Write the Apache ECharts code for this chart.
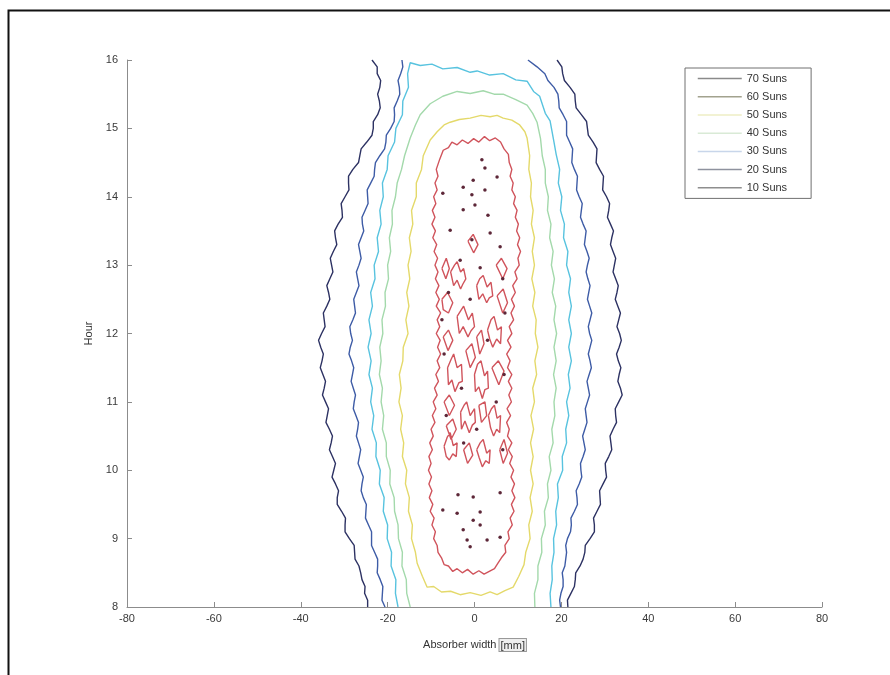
<!DOCTYPE html>
<html><head><meta charset="utf-8">
<script src="https://cdn.jsdelivr.net/npm/echarts@6.0.0/dist/echarts.min.js"></script>
<style>html,body{margin:0;padding:0;background:#fff}#chart{width:890px;height:675px}</style>
</head><body><div id="chart"></div>
<script>
// ---- data (x = absorber width [mm], y = hour) ----
const legendNames = ['70 Suns','60 Suns','50 Suns','40 Suns','30 Suns','20 Suns','10 Suns'];
const lineColors = {'10 Suns':'#2d3263','20 Suns':'#3e5ca6','30 Suns':'#58c3df','40 Suns':'#a3d9ab','50 Suns':'#e4d96a','60 Suns':'#d0545c','70 Suns':'#5d2738'};
const legendColors = {'70 Suns':'#8a8a8a','60 Suns':'#a2a28e','50 Suns':'#eeeec4','40 Suns':'#d9ead6','30 Suns':'#c8d6ea','20 Suns':'#8e929e','10 Suns':'#8e8e8e'};

const suns10Left = [[-23.6,16.0],[-22.4,15.9],[-22.4,15.8],[-21.6,15.7],[-21.8,15.6],[-22.3,15.5],[-21.9,15.4],[-21.7,15.3],[-22.3,15.2],[-23.3,15.1],[-23.3,15.0],[-23.6,14.9],[-24.8,14.8],[-26.1,14.7],[-26.4,14.6],[-26.7,14.5],[-28.0,14.4],[-29.0,14.3],[-29.0,14.2],[-28.9,14.1],[-29.8,14.0],[-30.7,13.9],[-30.5,13.8],[-30.4,13.7],[-31.4,13.6],[-32.2,13.5],[-32.0,13.4],[-31.7,13.3],[-32.5,13.2],[-33.2,13.1],[-32.9,13.0],[-32.6,12.9],[-33.3,12.8],[-34.0,12.7],[-33.6,12.6],[-33.3,12.5],[-34.0,12.4],[-34.8,12.3],[-34.6,12.2],[-34.4,12.1],[-35.2,12.0],[-35.9,11.9],[-35.4,11.8],[-34.8,11.7],[-35.1,11.6],[-35.5,11.5],[-34.9,11.4],[-34.3,11.3],[-34.6,11.2],[-35.0,11.1],[-34.3,11.0],[-33.6,10.9],[-33.9,10.8],[-34.2,10.7],[-33.4,10.6],[-32.7,10.5],[-33.0,10.4],[-33.4,10.3],[-32.7,10.2],[-32.0,10.1],[-32.4,10.0],[-32.8,9.9],[-32.0,9.8],[-31.3,9.7],[-31.6,9.6],[-31.6,9.5],[-30.6,9.4],[-29.7,9.3],[-29.8,9.2],[-29.8,9.1],[-28.8,9.0],[-27.7,8.9],[-27.6,8.8],[-27.5,8.7],[-26.6,8.6],[-26.2,8.5],[-25.9,8.4],[-25.2,8.3],[-25.3,8.2],[-24.6,8.1],[-24.6,8.0]];
const suns10Right = [[19.0,16.0],[20.1,15.9],[20.3,15.8],[20.7,15.7],[22.0,15.6],[23.1,15.5],[23.2,15.4],[23.4,15.3],[24.6,15.2],[25.8,15.1],[26.0,15.0],[26.2,14.9],[27.3,14.8],[28.2,14.7],[28.1,14.6],[28.0,14.5],[28.8,14.4],[29.7,14.3],[29.6,14.2],[29.5,14.1],[30.4,14.0],[31.1,13.9],[30.9,13.8],[30.6,13.7],[31.3,13.6],[32.0,13.5],[31.6,13.4],[31.3,13.3],[31.9,13.2],[32.5,13.1],[32.2,13.0],[31.9,12.9],[32.5,12.8],[33.1,12.7],[32.8,12.6],[32.4,12.5],[33.0,12.4],[33.6,12.3],[33.2,12.2],[32.8,12.1],[33.4,12.0],[33.8,11.9],[33.3,11.8],[32.7,11.7],[33.1,11.6],[33.7,11.5],[33.3,11.4],[33.0,11.3],[33.6,11.2],[34.0,11.1],[33.2,11.0],[32.4,10.9],[32.5,10.8],[32.7,10.7],[31.9,10.6],[31.2,10.5],[31.4,10.4],[31.6,10.3],[30.9,10.2],[30.1,10.1],[30.2,10.0],[30.4,9.9],[29.6,9.8],[28.8,9.7],[28.9,9.6],[29.0,9.5],[28.2,9.4],[27.4,9.3],[27.6,9.2],[27.6,9.1],[26.6,9.0],[25.5,8.9],[25.4,8.8],[25.0,8.7],[24.3,8.6],[23.3,8.5],[23.2,8.4],[23.0,8.3],[22.2,8.2],[21.4,8.1],[21.5,8.0]];
const suns20Left = [[-16.7,16.0],[-16.5,15.9],[-17.0,15.8],[-17.6,15.7],[-17.3,15.6],[-17.2,15.5],[-17.8,15.4],[-18.5,15.3],[-18.4,15.2],[-18.5,15.1],[-19.3,15.0],[-20.3,14.9],[-20.4,14.8],[-20.7,14.7],[-21.8,14.6],[-22.8,14.5],[-23.0,14.4],[-23.1,14.3],[-23.9,14.2],[-24.7,14.1],[-24.6,14.0],[-24.5,13.9],[-25.2,13.8],[-25.9,13.7],[-25.8,13.6],[-25.5,13.5],[-26.1,13.4],[-26.7,13.3],[-26.4,13.2],[-26.1,13.1],[-26.6,13.0],[-27.2,12.9],[-26.9,12.8],[-26.6,12.7],[-27.2,12.6],[-27.8,12.5],[-27.6,12.4],[-27.4,12.3],[-28.0,12.2],[-28.7,12.1],[-28.5,12.0],[-28.1,11.9],[-28.6,11.8],[-28.9,11.7],[-28.3,11.6],[-27.8,11.5],[-28.1,11.4],[-28.4,11.3],[-27.9,11.2],[-27.4,11.1],[-27.7,11.0],[-27.9,10.9],[-27.3,10.8],[-26.7,10.7],[-26.9,10.6],[-27.2,10.5],[-26.7,10.4],[-26.2,10.3],[-26.5,10.2],[-26.8,10.1],[-26.2,10.0],[-25.6,9.9],[-25.9,9.8],[-26.1,9.7],[-25.6,9.6],[-24.9,9.5],[-25.0,9.4],[-25.1,9.3],[-24.4,9.2],[-23.7,9.1],[-23.7,9.0],[-23.7,8.9],[-23.0,8.8],[-22.3,8.7],[-22.3,8.6],[-22.4,8.5],[-21.7,8.4],[-21.1,8.3],[-21.2,8.2],[-21.3,8.1],[-20.6,8.0]];
const suns20Right = [[12.3,16.0],[14.4,15.9],[16.2,15.8],[16.9,15.7],[18.3,15.6],[19.2,15.5],[19.4,15.4],[19.5,15.3],[20.4,15.2],[21.2,15.1],[21.2,15.0],[21.2,14.9],[21.9,14.8],[22.6,14.7],[22.5,14.6],[22.4,14.5],[23.0,14.4],[23.7,14.3],[23.6,14.2],[23.5,14.1],[24.1,14.0],[24.8,13.9],[24.6,13.8],[24.4,13.7],[25.0,13.6],[25.7,13.5],[25.5,13.4],[25.3,13.3],[25.9,13.2],[26.4,13.1],[26.0,13.0],[25.7,12.9],[26.1,12.8],[26.6,12.7],[26.3,12.6],[26.0,12.5],[26.5,12.4],[27.0,12.3],[26.6,12.2],[26.2,12.1],[26.5,12.0],[27.0,11.9],[26.6,11.8],[26.2,11.7],[26.6,11.6],[26.9,11.5],[26.4,11.4],[25.9,11.3],[26.2,11.2],[26.5,11.1],[26.0,11.0],[25.5,10.9],[25.7,10.8],[25.9,10.7],[25.4,10.6],[24.9,10.5],[25.2,10.4],[25.5,10.3],[25.0,10.2],[24.4,10.1],[24.5,10.0],[24.7,9.9],[24.1,9.8],[23.4,9.7],[23.6,9.6],[23.7,9.5],[23.0,9.4],[22.2,9.3],[22.3,9.2],[22.1,9.1],[21.4,9.0],[21.0,8.9],[21.2,8.8],[21.0,8.7],[20.8,8.6],[20.2,8.5],[20.4,8.4],[20.4,8.3],[19.9,8.2],[19.6,8.1],[19.8,8.0]];
const suns30 = [[-17.6,8.0],[-18.2,8.2],[-18.1,8.4],[-19.2,8.6],[-19.1,8.8],[-20.1,9.0],[-20.0,9.2],[-21.0,9.4],[-20.8,9.6],[-21.9,9.8],[-21.7,10.0],[-22.7,10.2],[-22.6,10.4],[-23.6,10.6],[-23.2,10.8],[-23.9,11.0],[-23.5,11.2],[-24.3,11.4],[-23.8,11.6],[-24.5,11.8],[-23.8,12.0],[-24.3,12.2],[-23.5,12.4],[-23.9,12.6],[-22.9,12.8],[-23.1,13.0],[-22.1,13.2],[-22.4,13.4],[-21.5,13.6],[-21.8,13.8],[-21.0,14.0],[-21.2,14.2],[-20.1,14.4],[-19.9,14.6],[-18.4,14.8],[-18.1,15.0],[-16.6,15.2],[-16.5,15.4],[-15.2,15.6],[-15.4,15.8],[-14.8,15.96],[-12.5,15.92],[-9.8,15.94],[-7.3,15.87],[-4.0,15.89],[-1.0,15.82],[0.6,15.84],[3.5,15.78],[6.6,15.80],[9.5,15.71],[12.1,15.69],[13.6,15.54],[15.0,15.47],[16.3,15.22],[17.4,15.11],[18.3,14.8],[18.8,14.62],[19.6,14.4],[19.3,14.2],[20.1,14.0],[19.8,13.8],[20.7,13.6],[20.5,13.4],[21.5,13.2],[21.2,13.0],[22.1,12.8],[21.7,12.6],[22.3,12.4],[21.7,12.2],[22.3,12.0],[21.7,11.8],[22.3,11.6],[21.6,11.4],[22.0,11.2],[21.2,11.0],[21.7,10.8],[21.0,10.6],[21.2,10.4],[20.2,10.2],[20.3,10.0],[19.1,9.8],[19.3,9.6],[18.7,9.4],[18.9,9.2],[18.2,9.0],[18.3,8.8],[17.8,8.6],[17.9,8.4],[17.4,8.2],[17.6,8.0]];
const suns40 = [[-14.8,8.0],[-15.6,8.2],[-15.7,8.4],[-16.7,8.6],[-16.6,8.8],[-17.5,9.0],[-17.6,9.2],[-18.4,9.4],[-18.5,9.6],[-19.5,9.8],[-19.4,10.0],[-20.3,10.2],[-20.3,10.4],[-21.2,10.6],[-20.9,10.8],[-21.5,11.0],[-21.2,11.2],[-21.9,11.4],[-21.5,11.6],[-21.8,11.8],[-21.1,12.0],[-21.3,12.2],[-20.5,12.4],[-20.6,12.6],[-19.8,12.8],[-20.0,13.0],[-19.3,13.2],[-19.6,13.4],[-18.9,13.6],[-19.0,13.8],[-18.2,14.0],[-17.8,14.2],[-16.8,14.4],[-16.1,14.6],[-14.8,14.86],[-13.6,15.05],[-12.5,15.2],[-10.2,15.36],[-7.3,15.47],[-4.0,15.54],[-1.0,15.51],[2.0,15.55],[4.5,15.50],[6.6,15.50],[9.5,15.42],[12.1,15.34],[13.4,15.22],[14.4,15.09],[15.2,14.85],[15.6,14.6],[16.3,14.4],[16.3,14.2],[17.0,14.0],[16.8,13.8],[17.6,13.6],[17.3,13.4],[18.1,13.2],[17.7,13.0],[18.4,12.8],[17.9,12.6],[18.7,12.4],[18.3,12.2],[18.9,12.0],[18.3,11.8],[18.8,11.6],[18.2,11.4],[18.8,11.2],[18.3,11.0],[18.5,10.8],[17.8,10.6],[18.1,10.4],[17.2,10.2],[17.6,10.0],[16.8,9.8],[17.0,9.6],[16.1,9.4],[16.3,9.2],[15.4,9.0],[15.5,8.8],[14.6,8.6],[14.6,8.4],[13.8,8.2],[13.9,8.0]];
const suns50 = [[-8.6,14.95],[-7.0,15.05],[-5.6,15.09],[-3.5,15.13],[-1.0,15.15],[1.5,15.19],[3.6,15.17],[5.2,15.19],[6.6,15.15],[8.6,15.12],[10.4,15.05],[11.6,14.95],[12.1,14.86],[12.7,14.6],[12.5,14.4],[13.1,14.2],[12.9,14.0],[13.5,13.8],[13.1,13.6],[13.8,13.4],[13.3,13.2],[13.8,13.0],[13.2,12.8],[13.9,12.6],[13.4,12.4],[14.2,12.2],[14.0,12.0],[14.6,11.8],[13.9,11.6],[14.3,11.4],[13.4,11.2],[13.8,11.0],[13.0,10.8],[13.6,10.6],[12.9,10.4],[13.5,10.2],[12.9,10.0],[13.5,9.8],[12.8,9.6],[13.3,9.4],[12.5,9.2],[12.8,9.0],[11.8,8.8],[11.4,8.62],[10.2,8.45],[8.9,8.29],[7.0,8.24],[5.2,8.18],[3.6,8.22],[1.5,8.17],[-1.0,8.21],[-3.3,8.18],[-5.5,8.23],[-7.6,8.22],[-9.4,8.30],[-10.9,8.29],[-12.0,8.45],[-13.2,8.64],[-13.6,8.8],[-14.5,9.0],[-14.3,9.2],[-15.2,9.4],[-15.0,9.6],[-15.9,9.8],[-15.6,10.0],[-16.6,10.2],[-16.3,10.4],[-17.0,10.6],[-16.6,10.8],[-17.4,11.0],[-16.9,11.2],[-17.3,11.4],[-16.5,11.6],[-16.4,11.8],[-15.3,12.0],[-15.8,12.2],[-15.1,12.4],[-15.6,12.6],[-14.9,12.8],[-15.3,13.0],[-14.6,13.2],[-15.0,13.4],[-14.2,13.6],[-14.5,13.8],[-13.4,14.0],[-13.4,14.2],[-12.2,14.4],[-11.8,14.6],[-10.2,14.83],[-8.6,14.95]];
const suns60Main = [[-8.0,14.55],[-7.2,14.68],[-6.0,14.72],[-5.2,14.80],[-4.0,14.76],[-2.8,14.83],[-1.5,14.78],[-0.2,14.85],[1.0,14.80],[2.3,14.88],[3.5,14.82],[4.8,14.86],[6.0,14.80],[6.8,14.70],[7.8,14.62],[8.0,14.50],[8.6,14.40],[8.2,14.30],[8.9,14.20],[8.6,14.10],[9.4,14.00],[9.0,13.90],[9.8,13.80],[9.4,13.70],[10.1,13.60],[9.7,13.50],[10.4,13.40],[9.9,13.30],[10.6,13.20],[10.0,13.10],[10.3,13.00],[9.3,12.90],[9.8,12.80],[8.8,12.70],[9.4,12.60],[8.5,12.50],[9.2,12.40],[8.4,12.30],[9.0,12.20],[8.0,12.10],[8.6,12.00],[7.6,11.90],[8.4,11.80],[7.4,11.70],[8.2,11.60],[7.6,11.50],[8.6,11.40],[7.8,11.30],[8.6,11.20],[7.9,11.10],[8.5,11.00],[7.5,10.90],[8.3,10.80],[7.4,10.70],[8.0,10.60],[7.6,10.50],[8.6,10.40],[7.8,10.30],[8.7,10.20],[8.1,10.10],[9.0,10.00],[8.4,9.90],[9.2,9.80],[8.6,9.70],[9.3,9.60],[8.5,9.50],[9.1,9.40],[8.2,9.30],[8.7,9.20],[7.7,9.10],[8.0,9.00],[7.0,8.90],[7.2,8.80],[6.2,8.72],[5.4,8.64],[4.6,8.56],[3.4,8.52],[2.2,8.48],[1.0,8.53],[-0.3,8.48],[-1.6,8.55],[-2.8,8.50],[-4.0,8.56],[-5.0,8.52],[-6.0,8.60],[-7.0,8.62],[-7.6,8.72],[-8.4,8.80],[-8.6,8.90],[-9.4,9.00],[-9.0,9.10],[-9.8,9.20],[-9.3,9.30],[-10.2,9.40],[-9.6,9.50],[-10.4,9.60],[-9.8,9.70],[-10.5,9.80],[-9.9,9.90],[-10.6,10.00],[-10.0,10.10],[-10.5,10.20],[-9.7,10.30],[-10.3,10.40],[-9.5,10.50],[-10.0,10.60],[-9.1,10.70],[-9.7,10.80],[-8.9,10.90],[-9.5,11.00],[-8.6,11.10],[-9.2,11.20],[-8.3,11.30],[-8.9,11.40],[-8.0,11.50],[-8.6,11.60],[-7.8,11.70],[-8.5,11.80],[-7.9,11.90],[-8.8,12.00],[-8.0,12.10],[-8.6,12.20],[-7.8,12.30],[-8.8,12.40],[-8.1,12.50],[-8.9,12.60],[-8.2,12.70],[-9.0,12.80],[-8.4,12.90],[-9.1,13.00],[-8.5,13.10],[-9.3,13.20],[-8.7,13.30],[-9.6,13.40],[-9.0,13.50],[-9.8,13.60],[-9.1,13.70],[-9.7,13.80],[-8.9,13.90],[-9.4,14.00],[-8.6,14.10],[-9.1,14.20],[-8.4,14.30],[-8.8,14.40],[-8.0,14.55]];
const suns60Inner = [
  [[-5.5,12.9],[-4.6,13.0],[-4.0,13.05],[-3.2,12.9],[-2.5,12.95],[-2.0,12.8],[-2.7,12.72],[-3.2,12.65],[-4.0,12.78],[-4.8,12.7],[-5.5,12.9]],
  [[0.5,12.7],[1.2,12.8],[2.0,12.85],[2.9,12.68],[3.8,12.75],[4.2,12.55],[3.4,12.52],[2.8,12.45],[1.9,12.58],[1.0,12.5],[0.5,12.7]],
  [[-4.0,12.25],[-3.2,12.33],[-2.5,12.4],[-1.4,12.2],[-0.5,12.3],[0.0,12.1],[-0.8,12.04],[-1.5,11.95],[-2.6,12.1],[-3.5,12.0],[-4.0,12.25]],
  [[3.0,12.05],[3.8,12.2],[4.5,12.25],[5.3,12.05],[6.2,12.1],[6.0,11.85],[5.1,11.92],[4.2,11.8],[3.5,11.92],[3.0,12.05]],
  [[-6.2,11.5],[-5.4,11.62],[-4.8,11.7],[-4.0,11.5],[-3.0,11.55],[-2.8,11.3],[-3.6,11.28],[-4.5,11.15],[-5.2,11.32],[-6.0,11.25],[-6.2,11.5]],
  [[0.0,11.4],[0.7,11.55],[1.5,11.6],[2.3,11.38],[3.0,11.45],[3.2,11.2],[2.4,11.18],[1.8,11.05],[1.0,11.22],[0.2,11.15],[0.0,11.4]],
  [[-3.2,10.85],[-2.4,10.95],[-1.8,11.0],[-1.0,10.8],[0.0,10.9],[0.2,10.7],[-0.5,10.66],[-1.2,10.55],[-2.2,10.72],[-3.0,10.6],[-3.2,10.85]],
  [[3.2,10.8],[3.9,10.9],[4.6,10.95],[5.2,10.76],[6.0,10.8],[5.8,10.55],[5.1,10.6],[4.4,10.5],[3.7,10.62],[3.2,10.8]],
  [[-7.0,10.35],[-6.3,10.48],[-5.6,10.55],[-4.9,10.36],[-4.0,10.4],[-4.2,10.2],[-5.0,10.24],[-5.8,10.15],[-6.5,10.2],[-7.0,10.35]],
  [[0.5,10.3],[1.3,10.4],[2.0,10.45],[2.8,10.25],[3.6,10.3],[3.4,10.1],[2.6,10.14],[1.8,10.05],[1.1,10.18],[0.5,10.3]],
  [[-1.5,13.35],[-0.3,13.45],[0.8,13.3],[-0.2,13.18],[-1.5,13.35]],
  [[-7.5,12.95],[-6.5,13.1],[-5.8,12.95],[-6.6,12.8],[-7.5,12.95]],
  [[5.0,13.0],[6.2,13.1],[7.5,12.95],[6.5,12.8],[5.0,13.0]],
  [[-7.5,12.5],[-6.2,12.6],[-5.0,12.45],[-6.0,12.3],[-7.2,12.35],[-7.5,12.5]],
  [[5.2,12.55],[6.6,12.65],[7.6,12.45],[6.5,12.3],[5.2,12.55]],
  [[-7.2,11.95],[-6.0,12.05],[-5.0,11.9],[-6.1,11.75],[-7.2,11.95]],
  [[0.5,11.95],[1.6,12.05],[2.2,11.85],[1.2,11.7],[0.5,11.95]],
  [[-2.0,11.75],[-0.6,11.85],[0.2,11.65],[-1.0,11.5],[-2.0,11.75]],
  [[4.0,11.5],[5.5,11.6],[6.8,11.45],[5.6,11.25],[4.0,11.5]],
  [[-7.0,11.0],[-5.8,11.1],[-4.6,10.95],[-5.8,10.8],[-7.0,11.0]],
  [[1.0,10.95],[2.4,11.0],[2.8,10.8],[1.6,10.7],[1.0,10.95]],
  [[-6.5,10.65],[-5.0,10.75],[-4.2,10.6],[-5.4,10.45],[-6.5,10.65]],
  [[5.8,10.3],[6.8,10.45],[7.6,10.25],[6.6,10.1],[5.8,10.3]],
  [[-2.5,10.3],[-1.2,10.4],[-0.4,10.22],[-1.6,10.1],[-2.5,10.3]]
];
const suns70Dots = [[-0.3,14.24],[-2.6,14.14],[-7.3,14.05],[-0.6,14.03],[2.4,14.1],[5.2,14.29],[1.7,14.54],[2.4,14.42],[-2.6,13.81],[0.1,13.88],[3.1,13.73],[-5.6,13.51],[-0.6,13.37],[3.6,13.47],[-3.3,13.07],[1.3,12.96],[5.9,13.27],
  [-3.8,9.64],[-0.3,9.61],[5.9,9.67],[1.3,9.39],[-4.0,9.37],[-2.6,9.13],[-0.3,9.27],[1.3,9.2],[-1.7,8.98],[-1.0,8.88],[2.9,8.98],[-7.3,9.42],[5.9,9.02],
  [-6.0,12.6],[6.5,12.8],[-1.0,12.5],[3.0,11.9],[-7.0,11.7],[6.8,11.4],[-3.0,11.2],[5.0,11.0],[-6.5,10.8],[0.5,10.6],[-2.5,10.4],[6.5,10.3],[-7.5,12.2],[7.0,12.3]];

// ---- build ----
const FONT = '"Liberation Sans", Arial, sans-serif';
const gap = [NaN, NaN];
const joinParts = parts => parts.reduce((acc, p, i) => acc.concat(i ? [gap] : [], p), []);
function contour(name, data, extra) {
  return Object.assign({
    name, type: 'line', data, symbol: 'none', showSymbol: false, smooth: false,
    connectNulls: false, animation: false, silent: true,
    lineStyle: { color: lineColors[name], width: 1.4 },
    itemStyle: { color: lineColors[name] }
  }, extra || {});
}
const series = [
  contour('10 Suns', suns10Left), contour('10 Suns', suns10Right),
  contour('20 Suns', suns20Left), contour('20 Suns', suns20Right),
  contour('30 Suns', suns30), contour('40 Suns', suns40), contour('50 Suns', suns50),
  contour('60 Suns', joinParts([suns60Main].concat(suns60Inner))),
  contour('70 Suns', joinParts(suns70Dots.map(d => [d])), { symbol: 'circle', symbolSize: 3.5, showSymbol: true })
];

const chart = echarts.init(document.getElementById('chart'), null, { renderer: 'canvas' });
chart.setOption({
  backgroundColor: '#fff',
  animation: false,
  textStyle: { fontFamily: FONT },
  graphic: [{ type: 'rect', left: 6, top: 8, shape: { x: 0, y: 0, width: 1000, height: 1000 },
    style: { fill: 'none', stroke: '#111', lineWidth: 2 }, silent: true, z: 0 }],
  grid: { left: 127, right: 68, top: 60, bottom: 68, containLabel: false },
  xAxis: {
    type: 'value', min: -80, max: 80, interval: 20,
    name: 'Absorber width {b|[mm]}', nameLocation: 'middle', nameGap: 32,
    nameTextStyle: { color: '#333', fontSize: 11, fontFamily: FONT,
      rich: { b: { color: '#333', fontSize: 11, fontFamily: FONT, borderColor: '#999', borderWidth: 1, backgroundColor: '#eeeeee', padding: [1, 1, 0, 1] } } },
    axisLine: { show: true, onZero: false, lineStyle: { color: '#8c8c8c', width: 1 } },
    axisTick: { show: true, inside: true, length: 5, lineStyle: { color: '#8c8c8c' } },
    axisLabel: { color: '#3a3a3a', fontSize: 11, margin: 6, fontFamily: FONT },
    splitLine: { show: false }
  },
  yAxis: {
    type: 'value', min: 8, max: 16, interval: 1,
    name: 'Hour', nameLocation: 'middle', nameGap: 33, nameRotate: 90,
    nameTextStyle: { color: '#333', fontSize: 11, fontFamily: FONT },
    axisLine: { show: true, onZero: false, lineStyle: { color: '#8c8c8c', width: 1 } },
    axisTick: { show: true, inside: true, length: 5, lineStyle: { color: '#8c8c8c' } },
    axisLabel: { color: '#3a3a3a', fontSize: 11, margin: 9, fontFamily: FONT },
    splitLine: { show: false }
  },
  legend: {
    orient: 'vertical', left: 685, top: 68, padding: [5, 24, 5, 12],
    itemWidth: 44, itemHeight: 14, itemGap: 7, selectedMode: false,
    borderColor: '#707070', borderWidth: 1, backgroundColor: '#fff',
    textStyle: { fontSize: 11, color: '#333', fontFamily: FONT },
    data: legendNames.map(n => ({ name: n, lineStyle: { color: legendColors[n], width: 1.5 }, itemStyle: { opacity: 0 } }))
  },
  series
});
</script>
</body></html>
